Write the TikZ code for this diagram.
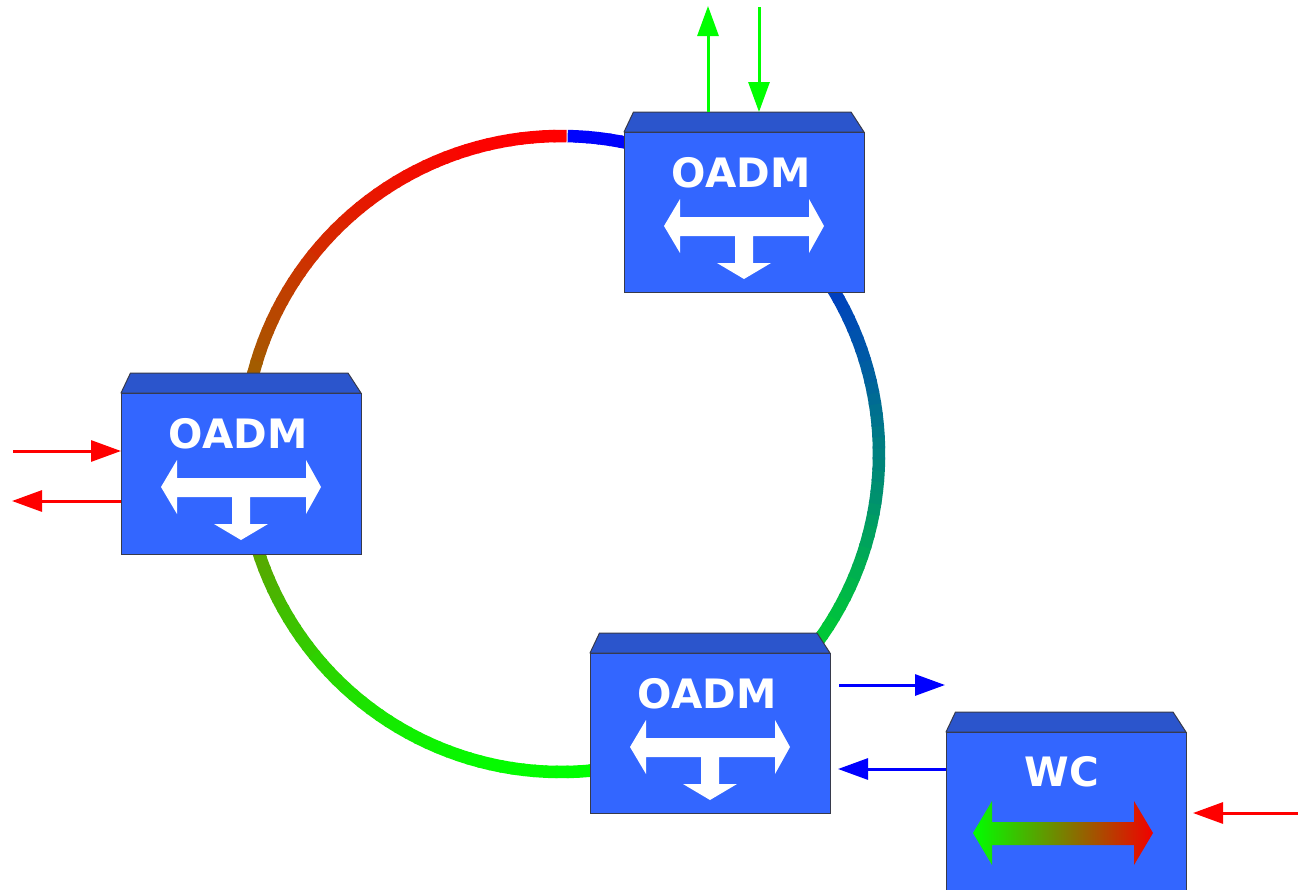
\documentclass[tikz,border=0pt]{standalone}
\usepackage{fontspec}
\setmainfont{DejaVu Sans}
\usetikzlibrary{arrows.meta}

\definecolor{facefront}{RGB}{51,102,255}
\definecolor{facetop}{RGB}{43,85,204}
\definecolor{edgegray}{RGB}{55,58,75}

\begin{document}
\begin{tikzpicture}[x=1pt,y=1pt,
  unitbox/.style={draw=edgegray, line width=1pt, fill=facefront,
    minimum width=240pt, minimum height=160pt, inner sep=0pt, outer sep=0pt},
  unittop/.style={draw=edgegray, line width=1pt, fill=facetop, line join=round},
  lbl/.style={text=white, font=\fontsize{40.5}{41}\selectfont\bfseries,
    inner sep=0pt, anchor=base},
  ring/.style={line width=12.5pt, line cap=butt},
  sig/.style={line width=3pt, -{Triangle[length=30pt,width=21pt]}},
]
\clip (0,0) rectangle (1298,-889);
\fill[white] (0,0) rectangle (1298,-889);

% ---------- ring: colour follows height
% left half: red at the top to green at the bottom
% right half: green at the bottom to blue at the top
\coordinate (ctr) at (561,-454);
\foreach \a in {89,91,...,267}{
  \pgfmathtruncatemacro\p{(1-sin(\a+1))/2*100}
  \draw[ring, draw=green!\p!red] ([shift={(\a:318)}]ctr)
    arc[start angle=\a, end angle=\a+2.4, radius=318];
}
\foreach \a in {269,271,...,447}{
  \pgfmathtruncatemacro\p{(1+sin(\a+1))/2*100}
  \pgfmathsetmacro\e{min(\a+2.4,448.8)}
  \draw[ring, draw=blue!\p!green] ([shift={(\a:318)}]ctr)
    arc[start angle=\a, end angle=\e, radius=318];
}

% ---------- units: front face, bevelled top, label
\newcommand\unitbevel[1]{%
  \filldraw[unittop] (#1.north west) -- ++(9.5,20)
    -- ([shift={(-13,20)}]#1.north east) -- (#1.north east) -- cycle;}
\newcommand\teearrow[1]{%
  \begin{scope}[shift={(#1.north west)}, yscale=-1]
    \fill[white] (40,94) -- (56,67) -- (56,85) -- (185,85) -- (185,67)
      -- (200,94) -- (185,121) -- (185,104) -- (129,104) -- (129,131)
      -- (147,131) -- (120,147) -- (93,131) -- (111,131) -- (111,104)
      -- (56,104) -- (56,121) -- cycle;
  \end{scope}}

\node[unitbox] (oadmT) at (744,-212) {};
\unitbevel{oadmT}
\node[lbl] (oadmTlbl) at ([shift={(117,-55.5)}]oadmT.north west) {OADM};
\teearrow{oadmT}

\node[unitbox, minimum height=161pt] (oadmL) at (241,-473.5) {};
\unitbevel{oadmL}
\node[lbl] (oadmLlbl) at ([shift={(117,-55.5)}]oadmL.north west) {OADM};
\teearrow{oadmL}

\node[unitbox] (oadmB) at (710,-733) {};
\unitbevel{oadmB}
\node[lbl] (oadmBlbl) at ([shift={(117,-55.5)}]oadmB.north west) {OADM};
\teearrow{oadmB}

\node[unitbox] (wc) at (1066,-812) {};
\unitbevel{wc}
\node[lbl] (wclbl) at ([shift={(116,-54.5)}]wc.north west) {WC};
\begin{scope}[shift={(wc.north west)}, yscale=-1]
  \shade[left color=green, right color=red!95!black]
    (27,101) -- (46,69) -- (46,90) -- (188,90) -- (188,69) -- (207,101)
    -- (188,133) -- (188,113) -- (46,113) -- (46,133) -- cycle;
\end{scope}

% ---------- add/drop signals
\coordinate (gUp) at (708,-6);
\coordinate (gDn) at (759,-7);
\draw[sig, green] ([yshift=20]oadmT.north -| gUp) -- (gUp);
\draw[sig, green] (gDn) -- ([yshift=20]oadmT.north -| gDn);

\coordinate (rIn) at (13,-451);
\coordinate (rOut) at (12,-501);
\draw[sig, red] (rIn) -- (oadmL.west |- rIn);
\draw[sig, red] (oadmL.west |- rOut) -- (rOut);

\coordinate (bStart) at (839,-685);
\coordinate (bTip) at (945,-685);
\coordinate (bBack) at (838,-769);
\draw[sig, blue] (bStart) -- (bTip);
\draw[sig, blue] (wc.west |- bBack) -- (bBack);

\coordinate (rSrc) at (1298,-813);
\coordinate (rTip) at (1193,-813);
\draw[sig, red] (rSrc) -- (rTip);
\end{tikzpicture}
\end{document}
